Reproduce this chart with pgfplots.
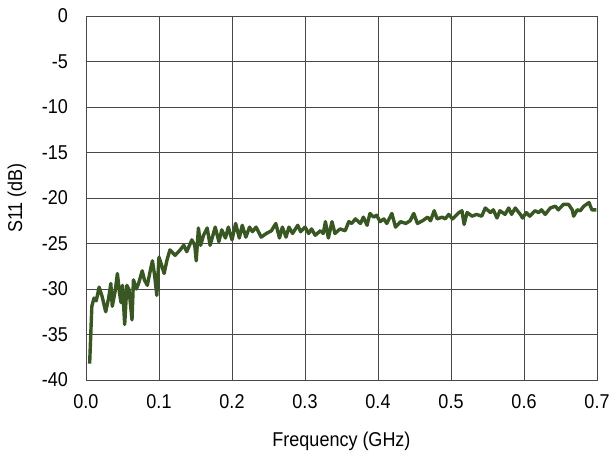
\documentclass[border=0pt]{standalone}
\usepackage{pgfplots}
\pgfplotsset{compat=1.18}
\usepackage{fontspec}
\setmainfont{Liberation Sans}
\newfontfamily\chartfont[FakeStretch=0.9]{Liberation Sans}
\definecolor{lineg}{RGB}{56,87,35}
\definecolor{gridc}{RGB}{72,72,72}
\begin{document}
\begin{tikzpicture}
\begin{axis}[
  scale only axis,
  width=511pt, height=364pt,
  xmin=0, xmax=0.7, ymin=-40, ymax=0,
  xtick distance=0.1, ytick distance=5,
  grid=major,
  major grid style={gridc, line width=0.9pt},
  axis line style={gridc, line width=0.9pt},
  major tick length=0pt,
  tick label style={font=\chartfont\fontsize{20}{22}\selectfont},
  label style={font=\chartfont\fontsize{20}{22}\selectfont},
  /pgf/number format/assume math mode=true,
  xticklabel style={anchor=base, yshift=-29pt, /pgf/number format/.cd, fixed, fixed zerofill, precision=1},
  yticklabel style={anchor=east, inner sep=0pt, xshift=-18pt, /pgf/number format/.cd, fixed, precision=0},
  xlabel={Frequency (GHz)},
  ylabel={S11 (dB)},
  xlabel style={at={(axis description cs:0.5,-0.184)}, anchor=base},
  ylabel style={at={(axis description cs:-0.135,0.5)}, anchor=center},
]
\addplot[lineg, line width=3.4pt, line join=round] table {
x y
0.005 -38.2
0.008 -31.9
0.011 -31.0
0.014 -31.3
0.018 -29.8
0.022 -30.8
0.027 -32.5
0.031 -31.0
0.034 -29.4
0.036 -31.9
0.040 -30.2
0.043 -28.3
0.046 -30.5
0.048 -31.5
0.050 -29.6
0.053 -33.9
0.056 -29.6
0.059 -30.1
0.063 -33.4
0.065 -29.0
0.069 -30.0
0.072 -29.4
0.077 -28.0
0.080 -29.0
0.084 -29.6
0.088 -28.0
0.091 -26.9
0.094 -28.5
0.097 -30.7
0.100 -26.5
0.104 -27.5
0.107 -28.3
0.111 -26.8
0.115 -25.7
0.122 -26.3
0.128 -25.8
0.134 -25.2
0.138 -25.9
0.145 -24.6
0.149 -25.2
0.151 -26.9
0.154 -23.3
0.157 -25.2
0.161 -24.1
0.166 -23.3
0.170 -25.2
0.177 -23.2
0.182 -24.8
0.186 -23.5
0.191 -24.4
0.195 -23.2
0.200 -24.6
0.205 -22.8
0.210 -24.4
0.214 -23.0
0.219 -24.3
0.224 -23.2
0.228 -23.7
0.233 -23.2
0.240 -24.3
0.247 -23.9
0.254 -23.6
0.260 -22.8
0.265 -24.4
0.269 -23.2
0.274 -24.3
0.278 -23.2
0.283 -23.9
0.290 -23.0
0.294 -23.7
0.300 -23.2
0.305 -23.9
0.309 -23.4
0.314 -24.1
0.321 -23.6
0.325 -23.9
0.328 -22.6
0.332 -24.4
0.337 -22.6
0.341 -23.9
0.348 -23.4
0.355 -23.6
0.360 -22.6
0.364 -22.8
0.369 -22.3
0.376 -22.8
0.380 -22.1
0.385 -23.0
0.389 -21.7
0.394 -22.1
0.398 -21.9
0.403 -22.6
0.408 -22.3
0.412 -22.8
0.419 -21.7
0.424 -23.2
0.431 -22.6
0.438 -22.8
0.444 -22.5
0.449 -21.7
0.454 -22.8
0.461 -22.5
0.468 -22.1
0.472 -22.5
0.477 -21.4
0.481 -22.3
0.488 -22.1
0.492 -22.3
0.497 -21.8
0.502 -22.3
0.506 -22.0
0.511 -21.6
0.515 -21.4
0.518 -22.9
0.522 -21.6
0.529 -22.0
0.535 -21.8
0.542 -22.0
0.547 -21.1
0.554 -21.6
0.558 -21.3
0.563 -22.2
0.567 -21.4
0.574 -21.8
0.579 -21.1
0.583 -21.8
0.588 -21.1
0.595 -21.8
0.598 -22.2
0.603 -21.6
0.608 -22.0
0.615 -21.4
0.620 -21.6
0.624 -21.3
0.629 -21.8
0.636 -21.1
0.643 -20.9
0.647 -21.3
0.654 -20.7
0.661 -20.7
0.666 -21.3
0.668 -22.0
0.673 -21.3
0.677 -21.4
0.682 -20.9
0.689 -20.5
0.693 -21.3
0.699 -21.3
};
\end{axis}
\pgfresetboundingbox
\path ([xshift=-86pt,yshift=-73pt]current axis.south west) rectangle ([xshift=15pt,yshift=16pt]current axis.north east);
\end{tikzpicture}
\end{document}
